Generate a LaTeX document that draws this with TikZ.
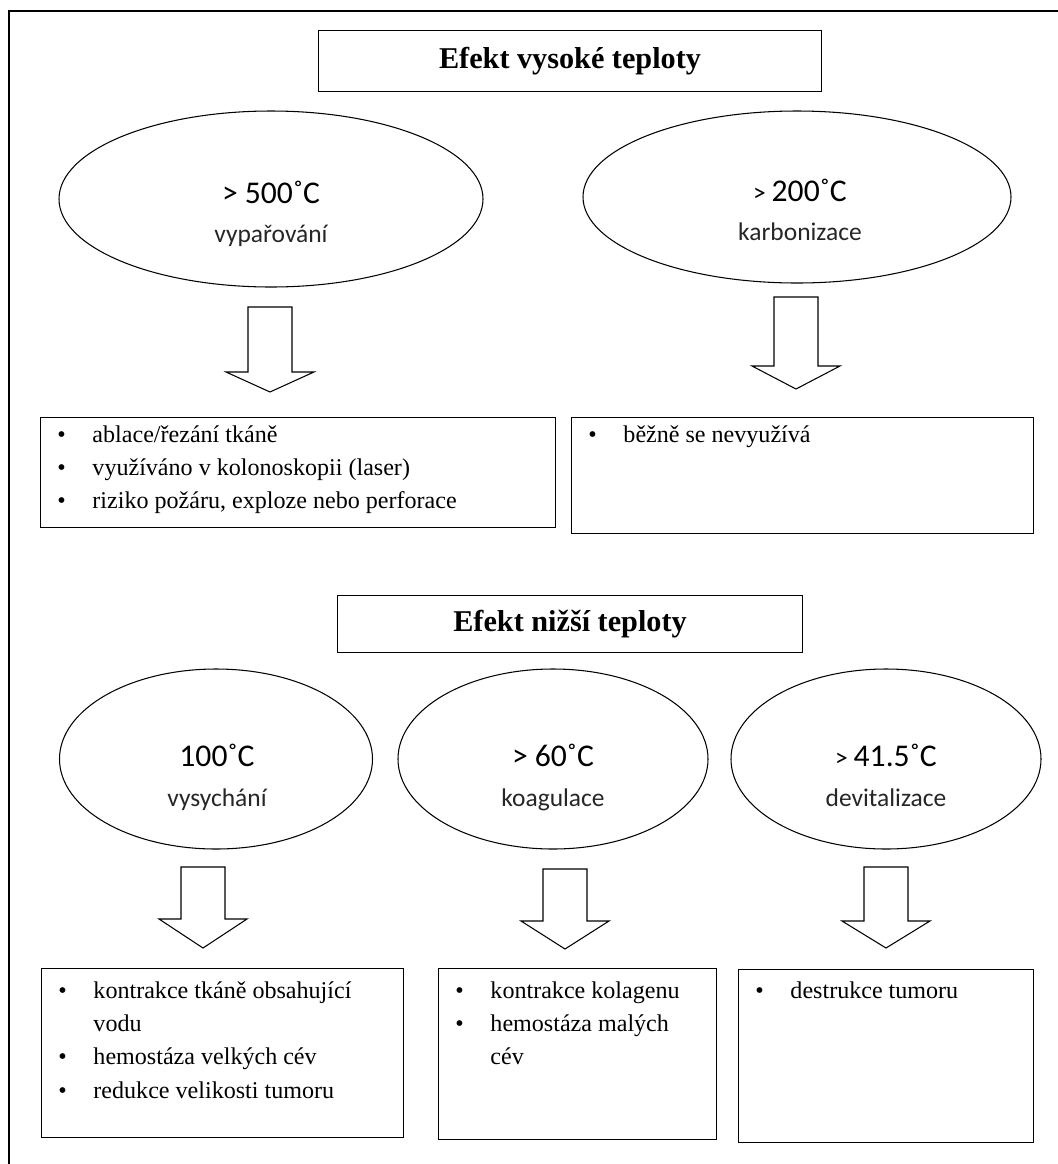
\documentclass[tikz,border=0pt]{standalone}
\usepackage{fontspec}
\setmainfont{Liberation Serif}
\newfontfamily\calib{Carlito}
\usetikzlibrary{shapes.geometric}
\newlength\pxl
\setlength\pxl{0.02cm}
% block arrow pointing down: top centre, shaft height, head height
\newcommand{\blkarrow}[3]{%
  \draw[blk] (#1) ++(-22,0) -- ++(0,#2) -- ++(-22,0) -- ++(44,#3)
    -- ++(44,-#3) -- ++(-22,0) -- ++(0,-#2) -- cycle;}
\newcommand{\itm}{\makebox[20pt][l]{\textbullet}}
\newcommand{\bullets}[1]{\begin{tabular}[t]{@{}l@{}}#1\end{tabular}}
\begin{document}
\begin{tikzpicture}[x=0.02cm, y=-0.02cm,
  titlebox/.style={draw, line width=0.8pt, inner sep=0pt,
    font=\bfseries\fontsize{17.2}{20}\selectfont},
  oval/.style={draw, ellipse, line width=0.6pt, inner sep=0pt},
  listbox/.style={draw, line width=0.8pt, inner sep=0pt, anchor=north west},
  listtext/.style={anchor=base west, inner sep=0pt,
    font=\fontsize{13.7}{19}\selectfont},
  temp/.style={inner sep=0pt, font=\calib\fontsize{18}{22}\selectfont},
  effect/.style={inner sep=0pt, font=\calib\fontsize{14.5}{18}\selectfont, text=black!85},
  blk/.style={draw, line width=0.6pt, fill=white}]
\useasboundingbox (0,0) rectangle (1058,1164);
\draw[line width=0.9pt] (9,1164) -- (9,11) -- (1058,11);

% high temperature
\node[titlebox, minimum width=503\pxl, minimum height=61\pxl] (high) at (570,61) {Efekt vysoké teploty};
\node[oval, minimum width=424\pxl, minimum height=176\pxl] (e500) at (271,199) {};
\node[oval, minimum width=428\pxl, minimum height=172\pxl] (e200) at (797,197) {};
\node[temp, anchor=base] (t500) at (271,203) {> 500˚C};
\node[effect, anchor=base] (v500) at (271,242) {vypařování};
\node[temp, anchor=base] (t200) at (800,201) {\fontsize{14.5}{18}\selectfont> \fontsize{18}{22}\selectfont200˚C};
\node[effect, anchor=base] (v200) at (800,240) {karbonizace};
\coordinate (a500) at (270,307);
\coordinate (a200) at (796,297);
\blkarrow{a500}{65}{20}
\blkarrow{a200}{69}{23}
\node[listbox, minimum width=515\pxl, minimum height=110\pxl] (b500) at (40,417) {};
\node[listbox, minimum width=462\pxl, minimum height=116\pxl] (b200) at (571,417) {};
\node[listtext] (l500) at (57,442) {\bullets{\itm ablace/řezání tkáně\\ \itm využíváno v kolonoskopii (laser)\\ \itm riziko požáru, exploze nebo perforace}};
\node[listtext] (l200) at (588,442) {\bullets{\itm běžně se nevyužívá}};

% low temperature
\node[titlebox, minimum width=465\pxl, minimum height=57\pxl] (low) at (570,624) {Efekt nižší teploty};
\node[oval, minimum width=313\pxl, minimum height=180\pxl] (e100) at (216,759) {};
\node[oval, minimum width=310\pxl, minimum height=180\pxl] (e60) at (553,759) {};
\node[oval, minimum width=310\pxl, minimum height=180\pxl] (e41) at (886,759) {};
\node[temp, anchor=base] (t100) at (217,766) {100˚C};
\node[effect, anchor=base] (v100) at (217,806) {vysychání};
\node[temp, anchor=base] (t60) at (553,766) {> 60˚C};
\node[effect, anchor=base] (v60) at (553,806) {koagulace};
\node[temp, anchor=base] (t41) at (886,766) {\fontsize{14.5}{18}\selectfont> \fontsize{18}{22}\selectfont41.5˚C};
\node[effect, anchor=base] (v41) at (886,806) {devitalizace};
\coordinate (a100) at (203,867);
\coordinate (a60) at (565,869);
\coordinate (a41) at (886,867);
\blkarrow{a100}{52}{29}
\blkarrow{a60}{52}{28}
\blkarrow{a41}{54}{27}
\node[listbox, minimum width=362\pxl, minimum height=169\pxl] (b100) at (41,968) {};
\node[listbox, minimum width=278\pxl, minimum height=171\pxl] (b60) at (438,968) {};
\node[listbox, minimum width=295\pxl, minimum height=173\pxl] (b41) at (738,969) {};
\node[listtext] (l100) at (58,998) {\bullets{\itm kontrakce tkáně obsahující\\ \hspace*{20pt}vodu\\ \itm hemostáza velkých cév\\ \itm redukce velikosti tumoru}};
\node[listtext] (l60) at (455,998) {\bullets{\itm kontrakce kolagenu\\ \itm hemostáza malých\\ \hspace*{20pt}cév}};
\node[listtext] (l41) at (755,998) {\bullets{\itm destrukce tumoru}};
\end{tikzpicture}
\end{document}
